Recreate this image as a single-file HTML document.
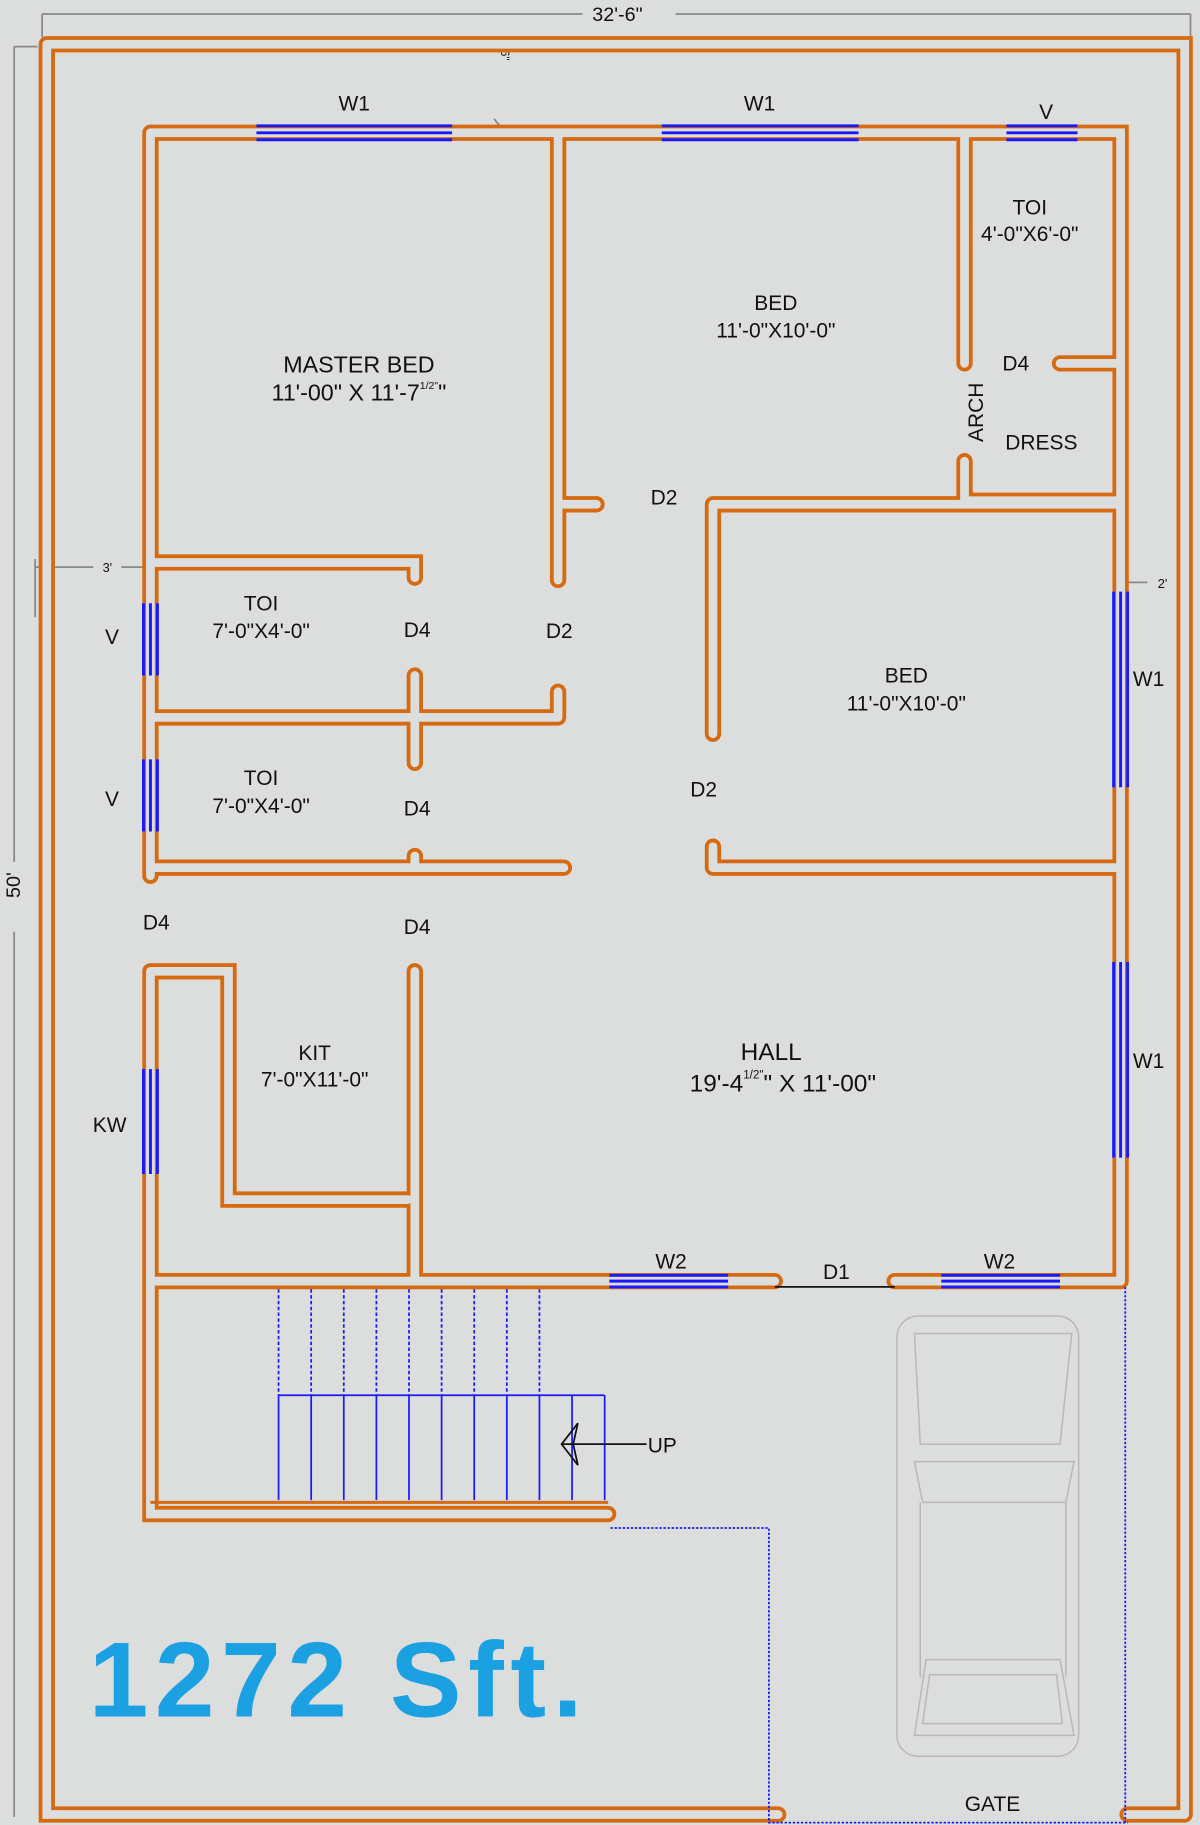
<!DOCTYPE html>
<html><head><meta charset="utf-8"><style>
html,body{margin:0;padding:0;background:#dcdddd;}
svg{display:block}
text{font-family:"Liberation Sans",sans-serif;fill:#111;}
</style></head><body>
<svg width="1200" height="1825" viewBox="0 0 1030 1567" xmlns="http://www.w3.org/2000/svg">
<defs>
<path id="w" d="
M40 38 H1017 V1558 M40 38 V1558 H668 M968 1558 H1017
M129 114 H962 V1100 M129 114 V752 M129 834 V1300 H522
M479 114 V498 M479 433 H512
M828 114 V312 M828 396 V430 H962 M910 312 H962
M612 433 H962 M612 433 V630 M612 745 H962 M612 727 V745
M129 483 H356 V496 M129 616 H479 M479 594 V616 M356 580 V655
M129 745 H484 M356 735 V745
M129 834 H196 V1030 H350 M356 834 V1100
M129 1100 H665 M768 1100 H962
"/>
</defs>
<rect width="1030" height="1567" fill="#dcdddd"/>
<g stroke="#888" stroke-width="1.5" fill="none">
<line x1="36" y1="12" x2="500" y2="12"/><line x1="580" y1="12" x2="1022" y2="12"/>
<line x1="36" y1="12" x2="36" y2="32"/><line x1="1022" y1="12" x2="1022" y2="32"/>
<line x1="12" y1="40" x2="12" y2="740"/><line x1="12" y1="800" x2="12" y2="1560"/>
<line x1="12" y1="40" x2="32" y2="40"/>
<line x1="30" y1="487" x2="80" y2="487"/><line x1="104" y1="487" x2="126" y2="487"/>
<line x1="30" y1="480" x2="30" y2="530"/>
<line x1="966" y1="500" x2="985" y2="500"/><line x1="1010" y1="500" x2="1022" y2="500"/>
<line x1="1020" y1="490" x2="1020" y2="530"/>
<line x1="424" y1="102" x2="432" y2="112"/>
</g>
<text x="530" y="18" font-size="17" text-anchor="middle">32'-6"</text>
<text x="22" y="765" font-size="17" text-anchor="middle" transform="rotate(-90 17 765)">50'</text>
<text x="92" y="491" font-size="11" text-anchor="middle">3'</text>
<text x="998" y="505" font-size="11" text-anchor="middle">2'</text>
<text x="434" y="38" font-size="10" text-anchor="middle" transform="rotate(90 430 38)">2'-6"</text>

<use href="#w" fill="none" stroke="#d66a10" stroke-width="14" stroke-linecap="round" stroke-linejoin="miter"/>
<use href="#w" fill="none" stroke="#dcdddd" stroke-width="7.5" stroke-linecap="round" stroke-linejoin="miter"/>
<path d="M129 1290 H522" stroke="#d66a10" stroke-width="2.5" fill="none"/>

<g stroke="#1a1aff" stroke-width="2.5">
<line x1="220" y1="108" x2="388" y2="108"/><line x1="220" y1="114" x2="388" y2="114"/><line x1="220" y1="120" x2="388" y2="120"/>
<line x1="568" y1="108" x2="737" y2="108"/><line x1="568" y1="114" x2="737" y2="114"/><line x1="568" y1="120" x2="737" y2="120"/>
<line x1="864" y1="108" x2="925" y2="108"/><line x1="864" y1="114" x2="925" y2="114"/><line x1="864" y1="120" x2="925" y2="120"/>
<line x1="523" y1="1095" x2="625" y2="1095"/><line x1="523" y1="1100" x2="625" y2="1100"/><line x1="523" y1="1105" x2="625" y2="1105"/>
<line x1="808" y1="1095" x2="910" y2="1095"/><line x1="808" y1="1100" x2="910" y2="1100"/><line x1="808" y1="1105" x2="910" y2="1105"/>
<line x1="956" y1="508" x2="956" y2="676"/><line x1="962" y1="508" x2="962" y2="676"/><line x1="968" y1="508" x2="968" y2="676"/>
<line x1="956" y1="826" x2="956" y2="994"/><line x1="962" y1="826" x2="962" y2="994"/><line x1="968" y1="826" x2="968" y2="994"/>
<line x1="123" y1="518" x2="123" y2="580"/><line x1="129" y1="518" x2="129" y2="580"/><line x1="135" y1="518" x2="135" y2="580"/>
<line x1="123" y1="652" x2="123" y2="714"/><line x1="129" y1="652" x2="129" y2="714"/><line x1="135" y1="652" x2="135" y2="714"/>
<line x1="123" y1="918" x2="123" y2="1008"/><line x1="129" y1="918" x2="129" y2="1008"/><line x1="135" y1="918" x2="135" y2="1008"/>
</g>
<line x1="665" y1="1105" x2="768" y2="1105" stroke="#111" stroke-width="1.5"/>

<g stroke="#1a1aff" stroke-width="1.5" fill="none">
<g stroke-dasharray="3 2">
<line x1="239" y1="1107" x2="239" y2="1198"/><line x1="267" y1="1107" x2="267" y2="1198"/><line x1="295" y1="1107" x2="295" y2="1198"/><line x1="323" y1="1107" x2="323" y2="1198"/><line x1="351" y1="1107" x2="351" y2="1198"/><line x1="379" y1="1107" x2="379" y2="1198"/><line x1="407" y1="1107" x2="407" y2="1198"/><line x1="435" y1="1107" x2="435" y2="1198"/><line x1="463" y1="1107" x2="463" y2="1198"/>
</g>
<line x1="239" y1="1198" x2="519" y2="1198"/>
<line x1="239" y1="1198" x2="239" y2="1288"/><line x1="267" y1="1198" x2="267" y2="1288"/><line x1="295" y1="1198" x2="295" y2="1288"/><line x1="323" y1="1198" x2="323" y2="1288"/><line x1="351" y1="1198" x2="351" y2="1288"/><line x1="379" y1="1198" x2="379" y2="1288"/><line x1="407" y1="1198" x2="407" y2="1288"/><line x1="435" y1="1198" x2="435" y2="1288"/><line x1="463" y1="1198" x2="463" y2="1288"/><line x1="491" y1="1198" x2="491" y2="1288"/><line x1="519" y1="1198" x2="519" y2="1288"/>
<path d="M524 1312 H660 V1565 H968 M966 1105 V1565" stroke-dasharray="2 1.5"/>
</g>
<g stroke="#111" stroke-width="1.5" fill="none">
<line x1="482" y1="1240" x2="555" y2="1240"/>
<path d="M482 1240 L496 1222 L492 1240 L496 1258 Z"/>
</g>
<text x="556" y="1247" font-size="18">UP</text>

<g stroke="#b8b8b8" stroke-width="1.3" fill="none">
<rect x="770" y="1130" width="156" height="378" rx="18"/>
<path d="M785 1145 L920 1145 L910 1240 L790 1240 Z"/>
<path d="M785 1255 L922 1255 L915 1290 L792 1290 Z"/>
<path d="M790 1290 L790 1440 M915 1290 L915 1440"/>
<path d="M795 1425 L910 1425 L922 1490 L785 1490 Z"/>
<path d="M798 1438 L907 1438 L912 1480 L792 1480 Z"/>
</g>

<g font-size="18" text-anchor="middle">
<text x="304" y="95">W1</text><text x="652" y="95">W1</text><text x="898" y="102">V</text>
<text x="308" y="320" font-size="20">MASTER BED</text><text x="308" y="344" font-size="20">11'-00" X 11'-7<tspan font-size="9" dy="-10">1/2"</tspan><tspan dy="10">"</tspan></text>
<text x="666" y="266">BED</text><text x="666" y="290">11'-0"X10'-0"</text>
<text x="884" y="184">TOI</text><text x="884" y="207">4'-0"X6'-0"</text>
<text x="872" y="318">D4</text><text x="894" y="386">DRESS</text>
<text x="838" y="354" transform="rotate(-90 838 354)" dy="6">ARCH</text>
<text x="570" y="433">D2</text><text x="480" y="548">D2</text><text x="604" y="684">D2</text>
<text x="224" y="524">TOI</text><text x="224" y="548">7'-0"X4'-0"</text>
<text x="358" y="547">D4</text><text x="358" y="700">D4</text><text x="358" y="802">D4</text><text x="134" y="798">D4</text>
<text x="224" y="674">TOI</text><text x="224" y="698">7'-0"X4'-0"</text>
<text x="96" y="553">V</text><text x="96" y="692">V</text><text x="94" y="972">KW</text>
<text x="778" y="586">BED</text><text x="778" y="610">11'-0"X10'-0"</text>
<text x="986" y="589">W1</text><text x="986" y="917">W1</text>
<text x="270" y="910">KIT</text><text x="270" y="933">7'-0"X11'-0"</text>
<text x="662" y="910" font-size="21">HALL</text>
<text x="672" y="937" font-size="21">19'-4<tspan font-size="10" dy="-11">1/2"</tspan><tspan dy="11">" X 11'-00"</tspan></text>
<text x="576" y="1089">W2</text><text x="858" y="1089">W2</text><text x="718" y="1098">D1</text>
<text x="852" y="1555">GATE</text>
</g>
<text x="76" y="1474" font-size="92" font-weight="bold" style="fill:#1ba1e2" textLength="424">1272 Sft.</text>
</svg>
</body></html>
